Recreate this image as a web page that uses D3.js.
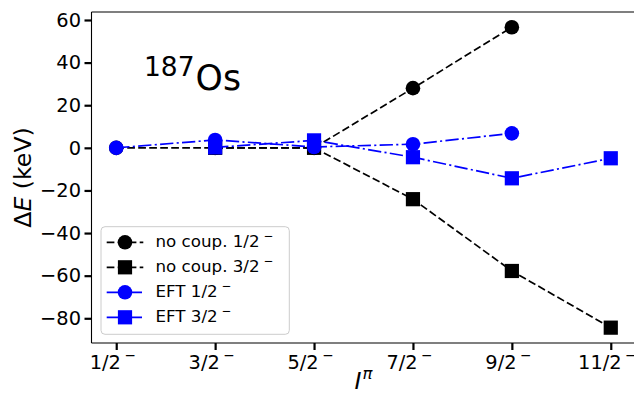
<!DOCTYPE html>
<html><head><meta charset="utf-8">
<script src="https://cdn.jsdelivr.net/npm/d3@7"></script>
<style>body{margin:0;background:#fff}svg{display:block;font-family:"DejaVu Sans",sans-serif}</style>
</head><body><svg id="c" width="634" height="395"></svg>
<script>
const categories = ["1/2","3/2","5/2","7/2","9/2","11/2"];
const noCoup12 = [0, 0, 0, 28.0, 56.6, null];
const noCoup32 = [null, 0, 0, -24.1, -57.8, -84.4];
const eft12 = [0, 3.7, 0.4, 1.7, 6.8, null];
const eft32 = [null, 0.2, 3.5, -4.4, -14.3, -4.9];
const yTicks = [-80, -60, -40, -20, 0, 20, 40, 60];
const seriesNames = ["no coup. 1/2", "no coup. 3/2", "EFT 1/2", "EFT 3/2"];

const svg = d3.select("#c");
const L = 91.5, R = 635.5, T = 12, B = 343;
const x = d3.scaleLinear().domain([-0.25, 5.25]).range([L, R]);
const y = d3.scaleLinear().domain([-91.6, 63.75]).range([B, T]);

const DASH = "7.7,3.3", DASHDOT = "13.3,3.3,2.1,3.3";
const series = [
  {name: seriesNames[0], vals: noCoup12, color: "#000", dash: DASH, marker: "circle"},
  {name: seriesNames[1], vals: noCoup32, color: "#000", dash: DASH, marker: "square"},
  {name: seriesNames[2], vals: eft12, color: "#0000ff", dash: DASHDOT, marker: "circle"},
  {name: seriesNames[3], vals: eft32, color: "#0000ff", dash: DASHDOT, marker: "square"}
];

const g = svg.append("g");
const line = d3.line().defined(d => d.v !== null).x(d => x(d.i)).y(d => y(d.v));
function drawMarker(sel, type, cx, cy, color) {
  if (type === "circle") sel.append("circle").attr("cx", cx).attr("cy", cy).attr("r", 7.3).attr("fill", color);
  else sel.append("rect").attr("x", cx - 7.1).attr("y", cy - 7.1).attr("width", 14.2).attr("height", 14.2).attr("fill", color);
}
series.forEach(s => {
  const pts = s.vals.map((v, i) => ({i, v}));
  g.append("path").attr("d", line(pts)).attr("fill", "none").attr("stroke", s.color)
    .attr("stroke-width", 1.7).attr("stroke-dasharray", s.dash);
  pts.filter(p => p.v !== null).forEach(p => drawMarker(g, s.marker, x(p.i), y(p.v), s.color));
});

// spines
svg.append("line").attr("x1", L).attr("x2", L).attr("y1", T).attr("y2", B).attr("stroke", "#000").attr("stroke-width", 1.1);
svg.append("line").attr("x1", L).attr("x2", R).attr("y1", B).attr("y2", B).attr("stroke", "#000").attr("stroke-width", 1.1);
svg.append("line").attr("x1", L).attr("x2", R).attr("y1", T).attr("y2", T).attr("stroke", "#000").attr("stroke-width", 1.1);

// y axis
const ya = svg.append("g").attr("transform", `translate(${L},0)`)
  .call(d3.axisLeft(y).tickValues(yTicks).tickSize(7).tickPadding(3.5).tickFormat(d => d < 0 ? "\u2212" + Math.abs(d) : d));
ya.select(".domain").remove();
ya.selectAll(".tick line").attr("stroke-width", 2.2);
ya.selectAll("text").attr("font-size", 19.4).attr("font-family", "DejaVu Sans").attr("fill", "#000");

// x axis
const xa = svg.append("g").attr("transform", `translate(0,${B})`)
  .call(d3.axisBottom(x).tickValues(d3.range(categories.length)).tickSize(7).tickPadding(5).tickFormat(""));
xa.select(".domain").remove();
xa.selectAll(".tick line").attr("stroke-width", 2.2);
xa.selectAll(".tick").each(function(d) {
  const t = d3.select(this).append("text").attr("x", -4).attr("y", 25.5).attr("font-size", 19.4).attr("fill", "#000")
    .attr("text-anchor", "middle").attr("font-family", "DejaVu Sans");
  t.append("tspan").text(categories[d]);
  t.append("tspan").attr("dx", 3.5).attr("dy", -9).attr("font-size", 13.6).text("\u2212");
});

// axis labels
svg.append("text").attr("x", (L + R) / 2).attr("y", 389).attr("text-anchor", "middle")
  .attr("font-size", 23.6).attr("font-family", "DejaVu Sans")
  .call(t => { t.append("tspan").attr("font-style", "italic").text("I");
               t.append("tspan").attr("dx", 1).attr("dy", -10).attr("font-size", 16.5).attr("font-style", "italic").text("\u03c0"); });
svg.append("text").attr("transform", `translate(31,${(T + B) / 2}) rotate(-90)`).attr("text-anchor", "middle")
  .attr("font-size", 23.6).attr("font-family", "DejaVu Sans")
  .call(t => { t.append("tspan").text("\u0394");
               t.append("tspan").attr("font-style", "italic").text("E");
               t.append("tspan").text(" (keV)"); });

// nucleus label
svg.append("text").attr("x", 144).attr("y", 90).attr("font-size", 34.7).attr("font-family", "DejaVu Sans")
  .call(t => { t.append("tspan").attr("font-size", 26.5).attr("dy", -14).text("187");
               t.append("tspan").attr("dx", 1).attr("dy", 14).text("Os"); });

// legend
const lg = svg.append("g");
lg.append("rect").attr("x", 101).attr("y", 226.7).attr("width", 188.3).attr("height", 107.6).attr("rx", 4)
  .attr("fill", "#fff").attr("fill-opacity", 0.8).attr("stroke", "#cccccc").attr("stroke-width", 1);
series.forEach((s, i) => {
  const yy = 242.3 + i * 25;
  lg.append("line").attr("x1", 106.7).attr("x2", 143.3).attr("y1", yy).attr("y2", yy)
    .attr("stroke", s.color).attr("stroke-width", 1.7).attr("stroke-dasharray", s.dash);
  drawMarker(lg, s.marker, 125, yy, s.color);
  const t = lg.append("text").attr("x", 155.5).attr("y", yy + 4.5).attr("font-size", 16.7).attr("font-family", "DejaVu Sans");
  t.append("tspan").text(s.name);
  t.append("tspan").attr("dx", 4).attr("dy", -7).attr("font-size", 11.7).text("\u2212");
});
</script></body></html>
